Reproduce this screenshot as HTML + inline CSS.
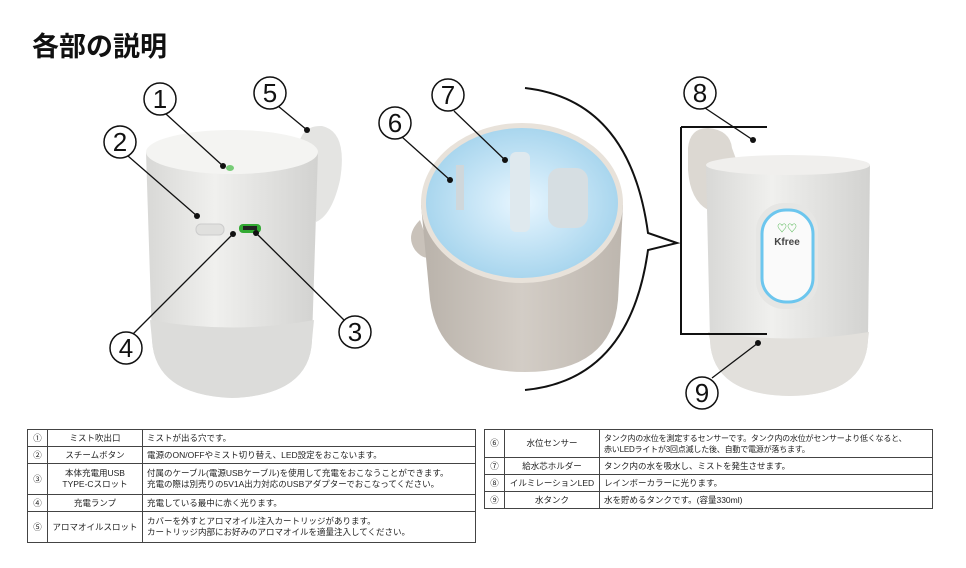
<!DOCTYPE html>
<html><head><meta charset="utf-8">
<style>
body{margin:0;background:#fff;width:966px;height:568px;overflow:hidden;position:relative;font-family:"Liberation Sans","Noto Sans CJK JP",sans-serif}
.t{position:absolute;left:32px;top:25px;font-size:27px;font-weight:bold;color:#111;letter-spacing:0px}
table{position:absolute;border-collapse:collapse;font-size:8.5px;color:#222;line-height:11px}
td{border:1px solid #444;padding:0 4px;vertical-align:middle}
td.n{text-align:center;width:11px}
td.m{text-align:center;width:86px}
</style></head><body>
<div class="t">各部の説明</div>
<svg width="966" height="568" style="position:absolute;left:0;top:0">
<defs>
<linearGradient id="g1" x1="0" x2="1"><stop offset="0" stop-color="#d8d8d6"/><stop offset=".4" stop-color="#f0f0ee"/><stop offset="1" stop-color="#d2d2d0"/></linearGradient>
<linearGradient id="g2" x1="0" x2="1"><stop offset="0" stop-color="#b9b2aa"/><stop offset=".5" stop-color="#d3cdc6"/><stop offset="1" stop-color="#bdb6ae"/></linearGradient>
<radialGradient id="g3"><stop offset="0" stop-color="#e8f6ff"/><stop offset="1" stop-color="#a9d6ee"/></radialGradient>
</defs>
<!-- device 1 -->
<path d="M298 150 Q300 125 322 126 Q348 132 340 180 Q332 215 316 222 Z" fill="#e4e4e2"/>
<path d="M146 152 L318 152 L312 340 Q310 395 232 398 Q155 395 152 340 Z" fill="url(#g1)"/>
<path d="M150 320 Q232 335 314 320 L312 340 Q310 395 232 398 Q155 395 152 340 Z" fill="#dcdcda"/>
<ellipse cx="232" cy="152" rx="86" ry="22" fill="#f4f4f2"/>
<ellipse cx="230" cy="168" rx="4" ry="3" fill="#7c7"/>
<rect x="196" y="224" width="28" height="11" rx="5" fill="#e0e0de" stroke="#ccc"/>
<rect x="239" y="224" width="22" height="9" rx="4" fill="#3a3"/>
<rect x="243" y="226" width="14" height="4" fill="#222"/>
<!-- device 2 -->
<path d="M420 220 Q405 235 415 250 Q425 262 432 255 Z" fill="#c9c2ba"/>
<path d="M421 205 L623 205 L618 300 Q612 372 525 372 Q440 372 430 300 Z" fill="url(#g2)"/>
<ellipse cx="522" cy="203" rx="101" ry="80" fill="#e8e2da"/>
<ellipse cx="522" cy="203" rx="96" ry="75" fill="url(#g3)"/>
<rect x="510" y="152" width="20" height="80" rx="6" fill="#dfe9ee"/>
<rect x="548" y="168" width="40" height="60" rx="12" fill="#d6dee2"/>
<rect x="456" y="165" width="8" height="45" fill="#cfd7db"/>
<!-- bracket arc -->
<path d="M525 88 Q630 100 648 233 L677 243 L648 250 Q630 380 525 390" fill="none" stroke="#111" stroke-width="2"/>
<!-- device 3 -->
<path d="M688 148 Q690 128 708 128 Q730 130 732 148 L740 170 Q730 210 708 210 Q690 200 688 170 Z" fill="#dcd8d2"/>
<path d="M706 165 L870 165 L868 340 Q865 395 790 396 Q712 395 710 340 Z" fill="url(#g1)"/>
<path d="M708 332 Q790 345 869 332 L868 340 Q865 395 790 396 Q712 395 710 340 Z" fill="#e2e0dc"/>
<ellipse cx="788" cy="165" rx="82" ry="10" fill="#f0efed"/>
<rect x="756" y="203" width="62" height="106" rx="28" fill="#e6e6e4"/>
<rect x="762" y="210" width="51" height="92" rx="24" fill="#fafafa" stroke="#6cc6ee" stroke-width="3"/>
<text x="787" y="245" font-size="10" font-weight="bold" fill="#444" text-anchor="middle" font-family="Liberation Sans,sans-serif">Kfree</text>
<text x="787" y="232" font-size="10" fill="#3a3" text-anchor="middle">♡♡</text>
<path d="M681 127 H767 M681 127 V334 H767" fill="none" stroke="#111" stroke-width="2"/>
<!-- leader lines -->
<g stroke="#111" stroke-width="1.3">
<line x1="166" y1="114" x2="223" y2="166"/>
<line x1="278" y1="106" x2="307" y2="130"/>
<line x1="128" y1="156" x2="197" y2="216"/>
<line x1="133" y1="334" x2="233" y2="234"/>
<line x1="345" y1="321" x2="256" y2="233"/>
<line x1="402" y1="137" x2="450" y2="180"/>
<line x1="454" y1="111" x2="505" y2="160"/>
<line x1="705" y1="108" x2="753" y2="140"/>
<line x1="712" y1="378" x2="758" y2="343"/>
</g>
<g fill="#111">
<circle cx="223" cy="166" r="3"/><circle cx="307" cy="130" r="3"/><circle cx="197" cy="216" r="3"/>
<circle cx="233" cy="234" r="3"/><circle cx="256" cy="233" r="3"/><circle cx="450" cy="180" r="3"/>
<circle cx="505" cy="160" r="3"/><circle cx="753" cy="140" r="3"/><circle cx="758" cy="343" r="3"/>
</g>
<g fill="#fff" stroke="#111" stroke-width="1.5">
<circle cx="160" cy="99" r="16"/><circle cx="270" cy="93" r="16"/><circle cx="120" cy="142" r="16"/>
<circle cx="126" cy="348" r="16"/><circle cx="355" cy="332" r="16"/><circle cx="395" cy="123" r="16"/>
<circle cx="448" cy="95" r="16"/><circle cx="700" cy="93" r="16"/><circle cx="702" cy="393" r="16"/>
</g>
<g font-size="26" fill="#111" text-anchor="middle" font-family="Liberation Sans,sans-serif">
<text x="160" y="108">1</text><text x="270" y="102">5</text><text x="120" y="151">2</text>
<text x="126" y="357">4</text><text x="355" y="341">3</text><text x="395" y="132">6</text>
<text x="448" y="104">7</text><text x="700" y="102">8</text><text x="702" y="402">9</text>
</g>
</svg>
<table style="left:27px;top:429px;width:449px">
<tr style="height:17px"><td class="n">①</td><td class="m">ミスト吹出口</td><td>ミストが出る穴です。</td></tr>
<tr style="height:17px"><td class="n">②</td><td class="m">スチームボタン</td><td>電源のON/OFFやミスト切り替え、LED設定をおこないます。</td></tr>
<tr style="height:31px"><td class="n">③</td><td class="m">本体充電用USB<br>TYPE-Cスロット</td><td>付属のケーブル(電源USBケーブル)を使用して充電をおこなうことができます。<br>充電の際は別売りの5V1A出力対応のUSBアダプターでおこなってください。</td></tr>
<tr style="height:17px"><td class="n">④</td><td class="m">充電ランプ</td><td>充電している最中に赤く光ります。</td></tr>
<tr style="height:31px"><td class="n">⑤</td><td class="m">アロマオイルスロット</td><td>カバーを外すとアロマオイル注入カートリッジがあります。<br>カートリッジ内部にお好みのアロマオイルを適量注入してください。</td></tr>
</table>
<table style="left:484px;top:429px;width:449px">
<tr style="height:28px"><td class="n">⑥</td><td class="m">水位センサー</td><td style="white-space:nowrap;font-size:8px;letter-spacing:-0.2px">タンク内の水位を測定するセンサーです。タンク内の水位がセンサーより低くなると、<br>赤いLEDライトが3回点滅した後、自動で電源が落ちます。</td></tr>
<tr style="height:17px"><td class="n">⑦</td><td class="m">給水芯ホルダー</td><td>タンク内の水を吸水し、ミストを発生させます。</td></tr>
<tr style="height:17px"><td class="n">⑧</td><td class="m">イルミレーションLED</td><td>レインボーカラーに光ります。</td></tr>
<tr style="height:17px"><td class="n">⑨</td><td class="m">水タンク</td><td>水を貯めるタンクです。(容量330ml)</td></tr>
</table>
</body></html>
